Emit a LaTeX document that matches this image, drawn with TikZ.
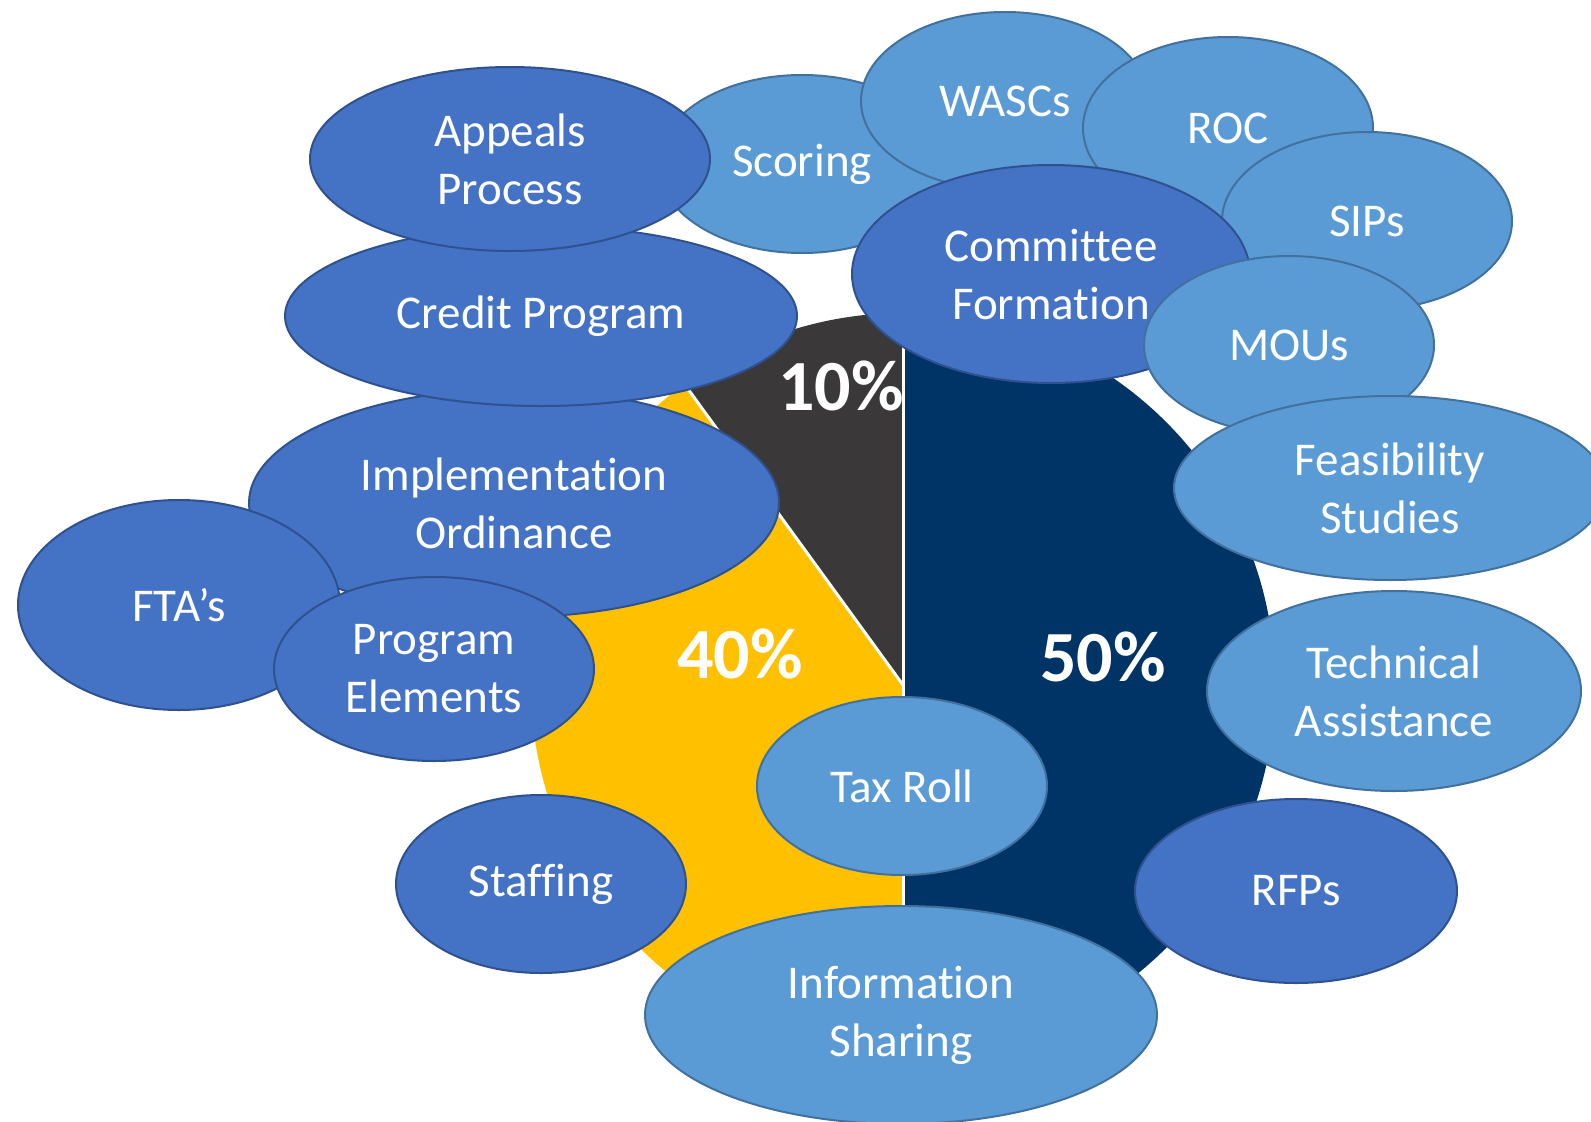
\documentclass[tikz,border=0pt]{standalone}
\usepackage{fontspec}
\setmainfont{Carlito}[Ligatures={NoCommon}]
\usetikzlibrary{shapes.geometric}
\definecolor{darkBl}{HTML}{4472C4}
\definecolor{darkBlLine}{HTML}{2F528F}
\definecolor{lightBl}{HTML}{5B9BD5}
\definecolor{lightBlLine}{HTML}{41719C}
\definecolor{pieNavy}{HTML}{003366}
\definecolor{pieGray}{HTML}{3A3838}
\definecolor{pieYellow}{HTML}{FFC000}
\tikzset{
  bubble/.style={ellipse, inner sep=0pt, line width=2pt, text=white, align=center,
     font=\fontsize{47}{58}\selectfont},
  darkbubble/.style={bubble, fill=darkBl, draw=darkBlLine},
  lightbubble/.style={bubble, fill=lightBl, draw=lightBlLine},
  pct/.style={text=white, font=\fontsize{72}{80}\selectfont\bfseries, inner sep=0pt},
  sep/.style={draw=white, line width=3pt}
}
\begin{document}
\begin{tikzpicture}[x=1pt,y=-1pt]
\clip (0,0) rectangle (1591,1122);
\fill[white] (0,0) rectangle (1591,1122);
% pie
\coordinate (c) at (903,685);
\fill[pieGray] (c) -- ++(90:372pt) arc[start angle=90, end angle=126, radius=372pt] -- cycle;
\fill[pieYellow] (c) -- ++(126:372pt) arc[start angle=126, end angle=270, radius=372pt] -- cycle;
\fill[pieNavy] (c) -- ++(-90:372pt) arc[start angle=-90, end angle=90, radius=372pt] -- cycle;
\path (c) ++(90:372pt) coordinate (pTop);
\path (c) ++(126:372pt) coordinate (pSlant);
\path (c) ++(270:372pt) coordinate (pBot);
\draw[sep] (c) -- (pTop);
\draw[sep] (c) -- (pSlant);
\draw[sep] (c) -- (pBot);
\node[pct] (p10) at (841,386) {10\%};
\node[pct] (p40) at (740,654) {40\%};
\node[pct] (p50) at (1103,657) {50\%};
% bubbles, back to front
\node[lightbubble, minimum width=288pt, minimum height=178pt] (scoring) at (802,164) {Scoring};
\node[lightbubble, minimum width=288pt, minimum height=178pt] (wascs) at (1005,101) {WASCs};
\node[lightbubble, minimum width=290pt, minimum height=182pt] (roc) at (1228,128) {ROC};
\node[lightbubble, minimum width=290pt, minimum height=178pt] (sips) at (1367,221) {SIPs};
\node[darkbubble, minimum width=398pt, minimum height=218pt] (committee) at (1051,274) {Committee\\Formation};
\node[lightbubble, minimum width=290pt, minimum height=178pt] (mous) at (1289,345) {MOUs};
\node[lightbubble, minimum width=432pt, minimum height=184pt] (feas) at (1390,488) {Feasibility\\Studies};
\node[lightbubble, minimum width=374pt, minimum height=200pt] (tech) at (1394,691) {Technical\\Assistance};
\node[darkbubble, minimum width=322pt, minimum height=184pt] (rfps) at (1296,891) {RFPs};
\node[lightbubble, minimum width=290pt, minimum height=178pt] (taxroll) at (902,786) {Tax Roll};
\node[lightbubble, minimum width=512pt, minimum height=218pt] (info) at (901,1015) {Information\\Sharing};
\node[darkbubble, minimum width=290pt, minimum height=178pt] (staffing) at (541,884) {Staffing};
\node[darkbubble, minimum width=530pt, minimum height=228pt] (impl) at (514,503) {Implementation\\Ordinance};
\node[darkbubble, minimum width=322pt, minimum height=210pt] (ftas) at (179,605) {FTA’s};
\node[darkbubble, minimum width=320pt, minimum height=184pt] (progel) at (434,669) {Program\\Elements};
\node[darkbubble, minimum width=512pt, minimum height=180pt] (credit) at (541,316) {Credit Program};
\node[darkbubble, minimum width=400pt, minimum height=184pt] (appeals) at (510,159) {Appeals\\Process};
\end{tikzpicture}
\end{document}
